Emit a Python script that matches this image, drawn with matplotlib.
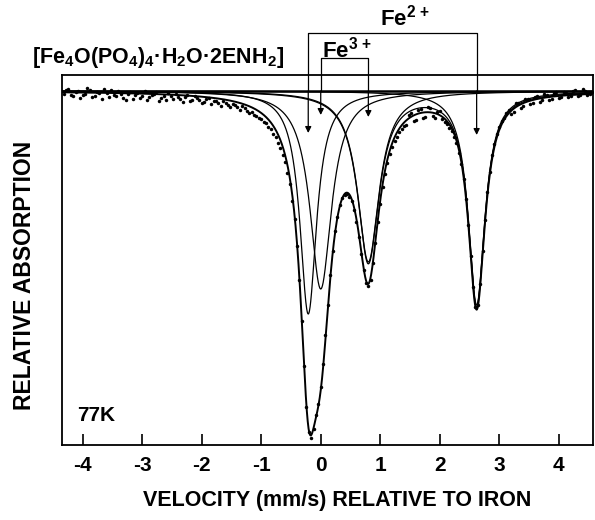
import numpy as np
import matplotlib
matplotlib.use("Agg")
import matplotlib.pyplot as plt

plt.rcParams['font.family'] = ['Liberation Sans', 'DejaVu Sans']
plt.rcParams['font.weight'] = 'bold'
plt.rcParams['mathtext.fontset'] = 'custom'
plt.rcParams['mathtext.rm'] = 'Liberation Sans:bold'
plt.rcParams['mathtext.bf'] = 'Liberation Sans:bold'
plt.rcParams['mathtext.it'] = 'Liberation Sans:bold'
plt.rcParams['axes.unicode_minus'] = False

# velocity channels (mm/s) and measured relative absorption (arb. units), first half
velocity = [-4.32, -4.24, -4.16, -4.08, -4.00, -3.92, -3.84, -3.76, -3.68, -3.60,
            -3.52, -3.44, -3.36, -3.28, -3.20, -3.12, -3.04, -2.96, -2.88, -2.80,
            -2.72, -2.64, -2.56, -2.48, -2.40, -2.32, -2.24, -2.16, -2.08, -2.00,
            -1.92, -1.84, -1.76, -1.68, -1.60, -1.52, -1.44, -1.36, -1.28, -1.20,
            -1.12, -1.04, -0.96, -0.88, -0.80, -0.72, -0.64, -0.56, -0.48, -0.40,
            -0.32, -0.24, -0.16, -0.08, 0.00, 0.08, 0.16, 0.24, 0.32, 0.40,
            0.48, 0.56, 0.64, 0.72, 0.80, 0.88, 0.96, 1.04, 1.12, 1.20,
            1.28, 1.36, 1.44, 1.52, 1.60, 1.68, 1.76, 1.84, 1.92, 2.00,
            2.08, 2.16, 2.24, 2.32, 2.40, 2.48, 2.56, 2.64, 2.72, 2.80,
            2.88, 2.96, 3.04, 3.12, 3.20, 3.28, 3.36, 3.44, 3.52, 3.60,
            3.68, 3.76, 3.84, 3.92, 4.00, 4.08, 4.16, 4.24, 4.32, 4.40,
            4.48, 4.56]
absorption = [3, -2, 5, 0, 4, -3, 6, 1, 8, 2,
              -1, 5, 3, 9, 1, 4, 7, 0, 6, 3,
              10, 5, 2, 8, 6, 11, 4, 9, 7, 12,
              8, 13, 10, 15, 12, 16, 14, 19, 17, 22,
              24, 27, 31, 36, 43, 52, 64, 82, 110, 155,
              230, 316, 347, 324, 296, 244, 184, 140, 114, 104,
              106, 119, 146, 179, 195, 172, 131, 96, 72, 56,
              46, 38, 34, 22, 29, 18, 26, 17, 27, 20,
              31, 37, 46, 62, 88, 134, 196, 214, 160, 101,
              64, 43, 30, 22, 23, 12, 17, 8, 13, 6,
              11, 3, 9, 2, 7, 1, 6, 0, 5, -2,
              4, 1]

# second half of the channels
velocity_b = [-4.28, -4.20, -4.12, -4.04, -3.96, -3.88, -3.80, -3.72, -3.64, -3.56,
              -3.48, -3.40, -3.32, -3.24, -3.16, -3.08, -3.00, -2.92, -2.84, -2.76,
              -2.68, -2.60, -2.52, -2.44, -2.36, -2.28, -2.20, -2.12, -2.04, -1.96,
              -1.88, -1.80, -1.72, -1.64, -1.56, -1.48, -1.40, -1.32, -1.24, -1.16,
              -1.08, -1.00, -0.92, -0.84, -0.76, -0.68, -0.60, -0.52, -0.44, -0.36,
              -0.28, -0.20, -0.12, -0.04, 0.04, 0.12, 0.20, 0.28, 0.36, 0.44,
              0.52, 0.60, 0.68, 0.76, 0.84, 0.92, 1.00, 1.08, 1.16, 1.24,
              1.32, 1.40, 1.48, 1.56, 1.64, 1.72, 1.80, 1.88, 1.96, 2.04,
              2.12, 2.20, 2.28, 2.36, 2.44, 2.52, 2.60, 2.68, 2.76, 2.84,
              2.92, 3.00, 3.08, 3.16, 3.24, 3.32, 3.40, 3.48, 3.56, 3.64,
              3.72, 3.80, 3.88, 3.96, 4.04, 4.12, 4.20, 4.28, 4.36, 4.44,
              4.52]
absorption_b = [-1, 4, 1, 7, 3, -1, 5, 2, -2, 6,
                4, 0, 7, 3, 8, 2, 5, 9, 4, 1,
                7, 9, 5, 3, 8, 6, 10, 5, 9, 11,
                7, 10, 12, 10, 14, 13, 16, 15, 20, 21,
                25, 28, 32, 38, 46, 57, 71, 93, 128, 189,
                275, 341, 338, 313, 273, 214, 160, 126, 107, 103,
                110, 131, 163, 192, 189, 152, 113, 83, 63, 50,
                41, 35, 24, 30, 19, 27, 16, 25, 21, 28,
                33, 40, 52, 73, 108, 165, 216, 193, 129, 81,
                53, 36, 27, 19, 21, 12, 15, 8, 12, 5,
                9, 4, 8, 1, 6, 2, 5, -1, 4, 0,
                3]

# fitted Lorentzian lines: Fe2+ (A, D) and Fe3+ (B, C)
line_names = ['A', 'B', 'C', 'D']
centers = [-0.21, 0.00, 0.80, 2.62]
hwhm = [0.17, 0.22, 0.22, 0.17]
depths = [223, 198, 171, 214]

# arrows marking the doublets
fe2_pos = [-0.21, 2.62]
fe3_pos = [0.0, 0.80]


def lorentz(x, c, g, d):
    return d * g**2 / ((x - c)**2 + g**2)


v = np.linspace(-4.4, 4.6, 2500)
comp = {n: lorentz(v, c, g, d) for n, c, g, d in zip(line_names, centers, hwhm, depths)}
total = comp['A'] + comp['B'] + comp['C'] + comp['D']

fig = plt.figure(figsize=(5.95, 5.2), dpi=100)
ax = fig.add_axes([0.1037, 0.1442, 0.893, 0.7116])

ax.axhline(0, color='k', lw=1.8)
for n in line_names:
    ax.plot(v, comp[n], color='k', lw=0.9)
ax.plot(v, comp['C'] + comp['D'], color='k', lw=0.9)
ax.plot(v, total, color='k', lw=1.4)
ax.plot(velocity, absorption, 'o', color='k', ms=2.5, mew=0)
ax.plot(velocity_b, absorption_b, 'o', color='k', ms=2.5, mew=0)

ax.set_xlim(-4.353, 4.576)
ax.set_ylim(354, -16)

for s in ax.spines.values():
    s.set_linewidth(1.3)
ax.set_xticks([-4, -3, -2, -1, 0, 1, 2, 3, 4])
ax.set_yticks([])
ax.tick_params(axis='x', direction='in', length=8, width=1.2, labelsize=15, pad=8)
for t in ax.get_xticklabels():
    t.set_fontweight('bold')

# doublet brackets and arrows
arr = dict(arrowstyle='-|>', lw=0.9, color='k', mutation_scale=9, shrinkA=0, shrinkB=0)
ax.plot([fe2_pos[0], fe2_pos[0], fe2_pos[1], fe2_pos[1]], [0, -58, -58, 0],
        color='k', lw=0.9, clip_on=False)
ax.plot([fe3_pos[0], fe3_pos[0], fe3_pos[1], fe3_pos[1]], [0, -33, -33, 0],
        color='k', lw=0.9, clip_on=False)
for x, tip in [(fe2_pos[0], 42), (fe2_pos[1], 44), (fe3_pos[0], 24), (fe3_pos[1], 26)]:
    ax.annotate('', xy=(x, tip), xytext=(x, 0), arrowprops=arr, annotation_clip=False)

ax.text(1.42, -73, r'Fe$^{2\,+}$', ha='center', va='center', fontsize=16,
        fontweight='bold', clip_on=False)
ax.text(0.44, -41, r'Fe$^{3\,+}$', ha='center', va='center', fontsize=16,
        fontweight='bold', clip_on=False)
ax.text(-4.857, -28, r'[Fe$_4$O(PO$_4$)$_4$·H$_2$O·2ENH$_2$]', ha='left', va='baseline',
        fontsize=15.5, fontweight='bold', clip_on=False)
ax.text(-4.10, 330, '77K', ha='left', va='baseline', fontsize=15, fontweight='bold')

fig.text(0.566, 0.038, 'VELOCITY (mm/s) RELATIVE TO IRON', ha='center', va='center',
         fontsize=15.5, fontweight='bold')
fig.text(0.042, 0.47, 'RELATIVE ABSORPTION', ha='center', va='center', rotation=90,
         fontsize=16.5, fontweight='bold')

fig.savefig('out.png', dpi=100)
